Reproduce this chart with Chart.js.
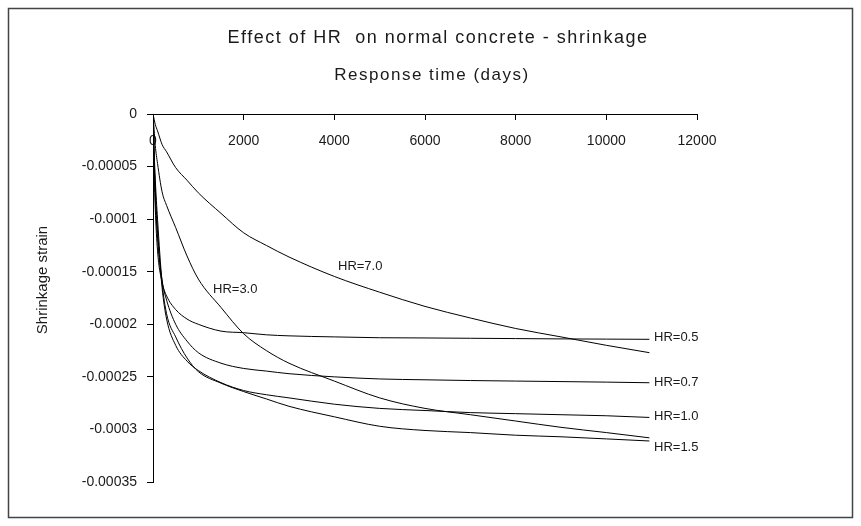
<!DOCTYPE html>
<html>
<head>
<meta charset="utf-8">
<script src="https://cdn.jsdelivr.net/npm/chart.js@4.4.1/dist/chart.umd.min.js"></script>
<style>
  html, body { margin: 0; padding: 0; background: #ffffff; }
  #wrap { width: 861px; height: 526px; position: relative; }
  canvas { display: block; }
</style>
</head>
<body>
<div id="wrap"><canvas id="chart" width="861" height="526"></canvas></div>
<script>
// ---- Data ----
const days = [0, 25, 50, 100, 200, 300, 500, 750, 1000, 1500, 2000, 2500, 3000, 4000, 5000, 6000, 7000, 8000, 9000, 10000, 10950];

const hr05 = [0, -0.000055, -0.000090, -0.000130, -0.000160, -0.000173, -0.000186, -0.000195, -0.000200, -0.0002065, -0.000208, -0.000210, -0.000211, -0.000212, -0.0002128, -0.000213, -0.0002133, -0.0002136, -0.0002139, -0.0002141, -0.0002143];
const hr07 = [0, -0.000045, -0.000078, -0.000118, -0.000158, -0.000177, -0.000200, -0.000216, -0.000227, -0.000237, -0.000242, -0.0002445, -0.000247, -0.000250, -0.000252, -0.0002528, -0.0002535, -0.000254, -0.0002545, -0.000255, -0.0002556];
const hr10 = [0, -0.000040, -0.000070, -0.000110, -0.000165, -0.000195, -0.000220, -0.000235, -0.000244, -0.0002555, -0.000263, -0.000267, -0.000270, -0.000276, -0.000280, -0.000282, -0.000284, -0.000285, -0.000286, -0.000287, -0.0002886];
const hr15 = [0, -0.000035, -0.000062, -0.000100, -0.000160, -0.000190, -0.000212, -0.000232, -0.000245, -0.000256, -0.000264, -0.000271, -0.000278, -0.000288, -0.000297, -0.000301, -0.000303, -0.0003055, -0.000307, -0.000309, -0.000311];
const hr30 = [0, -0.000015, -0.000030, -0.000047, -0.000074, -0.000087, -0.000108, -0.000135, -0.000157, -0.000184, -0.000209, -0.000225, -0.000237, -0.000254, -0.000270, -0.000280, -0.000286, -0.000292, -0.000298, -0.000303, -0.000308];
const hr70 = [0, -0.000005, -0.000010, -0.000016, -0.000029, -0.000036, -0.000051, -0.000063, -0.000075, -0.0000945, -0.000113, -0.000125, -0.000136, -0.0001545, -0.0001695, -0.000183, -0.000194, -0.000204, -0.000212, -0.000220, -0.000227];

const seriesNames = ['HR=0.5', 'HR=0.7', 'HR=1.0', 'HR=1.5', 'HR=3.0', 'HR=7.0'];
const seriesValues = [hr05, hr07, hr10, hr15, hr30, hr70];

const xTicks = [0, 2000, 4000, 6000, 8000, 10000, 12000];
const yTicks = [0, -0.00005, -0.0001, -0.00015, -0.0002, -0.00025, -0.0003, -0.00035];

// Curve label anchors (data units)
const labelText = ['HR=0.5', 'HR=0.7', 'HR=1.0', 'HR=1.5', 'HR=3.0', 'HR=7.0'];
const labelX = [11052, 11052, 11052, 11052, 1324, 4081];
const labelY = [-0.0002127, -0.000255, -0.0002873, -0.0003174, -0.000167, -0.0001454];

const titleText = 'Effect of HR  on normal concrete - shrinkage';
const xTitleText = 'Response time (days)';
const yTitleText = 'Shrinkage strain';

// ---- Chart ----
const FONT = '"Liberation Sans", Arial, Helvetica, sans-serif';
const TEXT = '#1a1a1a';

const datasets = seriesValues.map((vals, i) => ({
  label: seriesNames[i],
  data: days.map((d, j) => ({ x: d, y: vals[j] })),
  borderColor: '#000000',
  borderWidth: 1,
  pointRadius: 0,
  pointHoverRadius: 0,
  fill: false,
  cubicInterpolationMode: 'monotone'
}));

const framePlugin = {
  id: 'frame',
  beforeDraw(chart) {
    const ctx = chart.ctx;
    ctx.save();
    ctx.fillStyle = '#ffffff';
    ctx.fillRect(0, 0, chart.width, chart.height);
    ctx.strokeStyle = '#444444';
    ctx.lineWidth = 1.5;
    ctx.strokeRect(8.5, 8.5, 844, 509);
    ctx.restore();
  }
};

const textPlugin = {
  id: 'texts',
  afterDraw(chart) {
    const ctx = chart.ctx;
    const xs = chart.scales.x, ys = chart.scales.y;
    ctx.save();
    ctx.fillStyle = TEXT;
    ctx.textBaseline = 'middle';
    ctx.textAlign = 'center';
    // chart title
    ctx.font = '18px ' + FONT;
    if ('letterSpacing' in ctx) ctx.letterSpacing = '1.5px';
    ctx.fillText(titleText, 438, 38);
    // axis title (x, drawn at the top under the chart title)
    ctx.font = '17px ' + FONT;
    ctx.fillText(xTitleText, 432, 75);
    if ('letterSpacing' in ctx) ctx.letterSpacing = '0px';
    // y axis title
    ctx.save();
    ctx.translate(43, 280);
    ctx.rotate(-Math.PI / 2);
    ctx.font = '15px ' + FONT;
    ctx.fillText(yTitleText, 0, 0);
    ctx.restore();
    // curve labels
    ctx.font = '13px ' + FONT;
    ctx.textAlign = 'left';
    labelText.forEach((t, i) => {
      ctx.fillText(t, xs.getPixelForValue(labelX[i]), ys.getPixelForValue(labelY[i]));
    });
    ctx.restore();
  }
};

new Chart(document.getElementById('chart'), {
  type: 'line',
  data: { datasets },
  plugins: [framePlugin, textPlugin],
  options: {
    responsive: false,
    animation: false,
    devicePixelRatio: 1,
    layout: { padding: { left: 0, right: 164, top: 114, bottom: 44 } },
    plugins: {
      legend: { display: false },
      tooltip: { enabled: false },
      title: { display: false },
      subtitle: { display: false }
    },
    scales: {
      x: {
        type: 'linear',
        position: { y: 0 },
        min: 0,
        max: 12000,
        afterBuildTicks(scale) { scale.ticks = xTicks.map(v => ({ value: v })); },
        ticks: {
          color: TEXT,
          font: { family: FONT, size: 14 },
          padding: 14,
          maxRotation: 0,
          autoSkip: false,
          callback: v => String(v)
        },
        grid: { display: true, drawOnChartArea: false, drawTicks: true, tickLength: 5, color: '#000000', lineWidth: 1 },
        border: { display: true, color: '#000000', width: 1 }
      },
      y: {
        type: 'linear',
        position: 'left',
        min: -0.00035,
        max: 0,
        afterBuildTicks(scale) { scale.ticks = yTicks.map(v => ({ value: v })); },
        afterFit(scale) { scale.width = 153; },
        ticks: {
          color: TEXT,
          font: { family: FONT, size: 14 },
          padding: 10,
          autoSkip: false,
          callback: v => String(Number(v.toFixed(6)))
        },
        grid: { display: true, drawOnChartArea: false, drawTicks: true, tickLength: 6, color: '#000000', lineWidth: 1 },
        border: { display: true, color: '#000000', width: 1 },
        title: { display: false }
      }
    }
  }
});
</script>
</body>
</html>
